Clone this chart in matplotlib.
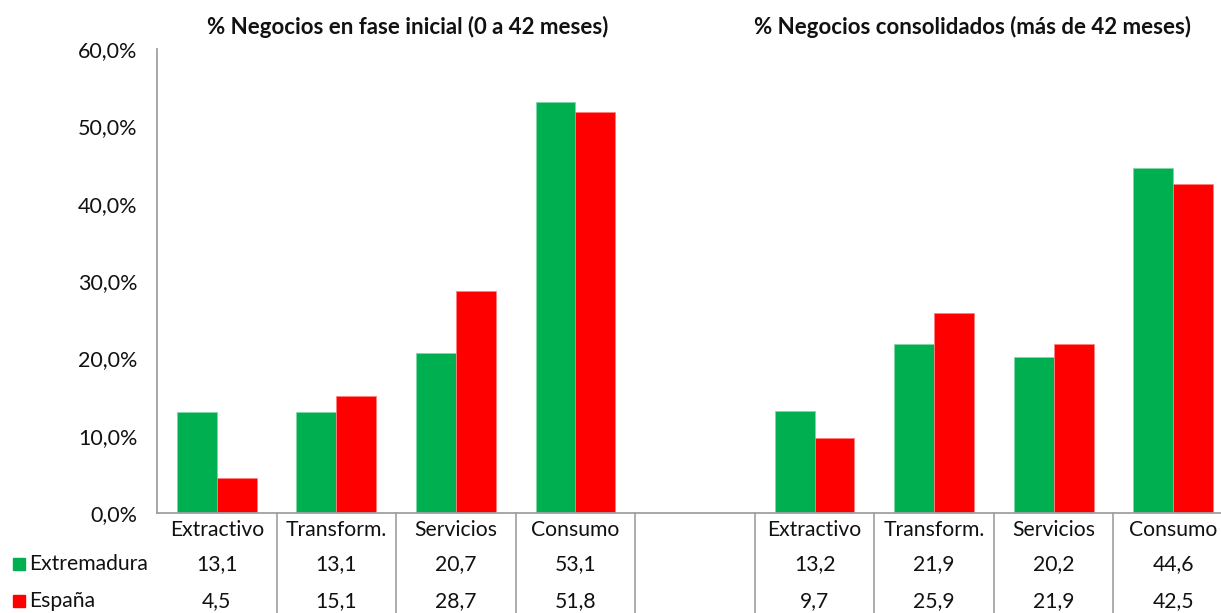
import matplotlib
matplotlib.use("Agg")
import matplotlib.pyplot as plt
from matplotlib.patches import Rectangle
import matplotlib.transforms as mtransforms

plt.rcParams['font.family'] = ['Lato', 'DejaVu Sans']

categories = ["Extractivo", "Transform.", "Servicios", "Consumo"]
titles = ["% Negocios en fase inicial (0 a 42 meses)",
          "% Negocios consolidados (más de 42 meses)"]
series_names = ["Extremadura", "España"]
extremadura_inicial = [13.1, 13.1, 20.7, 53.1]
espana_inicial = [4.5, 15.1, 28.7, 51.8]
extremadura_consol = [13.2, 21.9, 20.2, 44.6]
espana_consol = [9.7, 25.9, 21.9, 42.5]
yticks = [0, 10, 20, 30, 40, 50, 60]

GREEN = "#00B050"
RED = "#FF0000"
GRID = "#A6A6A6"
TXT = "#111111"
FS = 15.2

W, H = 1221, 613
fig = plt.figure(figsize=(W / 100, H / 100), dpi=100)
x0, x1, ytop, ybot = 157, 1233, 49, 513
ax = fig.add_axes([x0 / W, (H - ybot) / H, (x1 - x0) / W, (ybot - ytop) / H])

# slots: 0..3 first group, 4 blank, 5..8 second group
slots_1 = [0, 1, 2, 3]
slots_2 = [5, 6, 7, 8]
bw = 1 / 3
for slots, ext, esp in [(slots_1, extremadura_inicial, espana_inicial),
                        (slots_2, extremadura_consol, espana_consol)]:
    ax.bar([s - bw / 2 for s in slots], ext, width=bw, color=GREEN,
           edgecolor="#7FD8A8", linewidth=0.6)
    ax.bar([s + bw / 2 for s in slots], esp, width=bw, color=RED,
           edgecolor="#FF8080", linewidth=0.6)

ax.set_xlim(-0.5, 8.5)
ax.set_ylim(0, 60)
ax.set_yticks(yticks)
ax.set_yticklabels([f"{v:.1f}%".replace(".", ",") for v in yticks],
                   fontsize=15.5, color=TXT)
ax.tick_params(axis='y', length=0, pad=14)
ax.set_xticks([])
for s in ["top", "right"]:
    ax.spines[s].set_visible(False)
ax.spines["left"].set_color("#A0A0A0")
ax.spines["left"].set_linewidth(1.3)
ax.spines["bottom"].set_color("#A0A0A0")
ax.spines["bottom"].set_linewidth(1.3)

# data table
trans = mtransforms.blended_transform_factory(ax.transData, ax.transAxes)
ax_h = ybot - ytop
def yfrac(py):
    return (ybot - py) / ax_h

for xb in [0.5, 1.5, 2.5, 3.5, 4.5, 5.5, 6.5, 7.5]:
    ax.plot([xb, xb], [0, yfrac(H + 5)], transform=trans, color=GRID,
            lw=1.3, clip_on=False)

y_hdr, y_r1, y_r2 = yfrac(530), yfrac(564), yfrac(601)
for slots in (slots_1, slots_2):
    for s, c in zip(slots, categories):
        ax.text(s, y_hdr, c, transform=trans, ha="center", va="center",
                fontsize=FS, color=TXT)
for slots, ext, esp in [(slots_1, extremadura_inicial, espana_inicial),
                        (slots_2, extremadura_consol, espana_consol)]:
    for s, a, b in zip(slots, ext, esp):
        ax.text(s, y_r1, f"{a:.1f}".replace(".", ","), transform=trans,
                ha="center", va="center", fontsize=FS, color=TXT)
        ax.text(s, y_r2, f"{b:.1f}".replace(".", ","), transform=trans,
                ha="center", va="center", fontsize=FS, color=TXT)

# row labels with legend keys
for name, col, py in [(series_names[0], GREEN, 564), (series_names[1], RED, 601)]:
    fig.patches.append(Rectangle((13 / W, (H - py - 6) / H), 12 / W, 12 / H,
                                 transform=fig.transFigure, color=col))
    fig.text(29 / W, (H - py) / H, name, ha="left", va="center",
             fontsize=FS, color=TXT)

# titles
fig.text(408 / W, (H - 27) / H, titles[0], ha="center", va="center",
         fontsize=16, fontweight="bold", color=TXT)
fig.text(973 / W, (H - 27) / H, titles[1], ha="center", va="center",
         fontsize=16, fontweight="bold", color=TXT)

fig.savefig("out.png", dpi=100)
